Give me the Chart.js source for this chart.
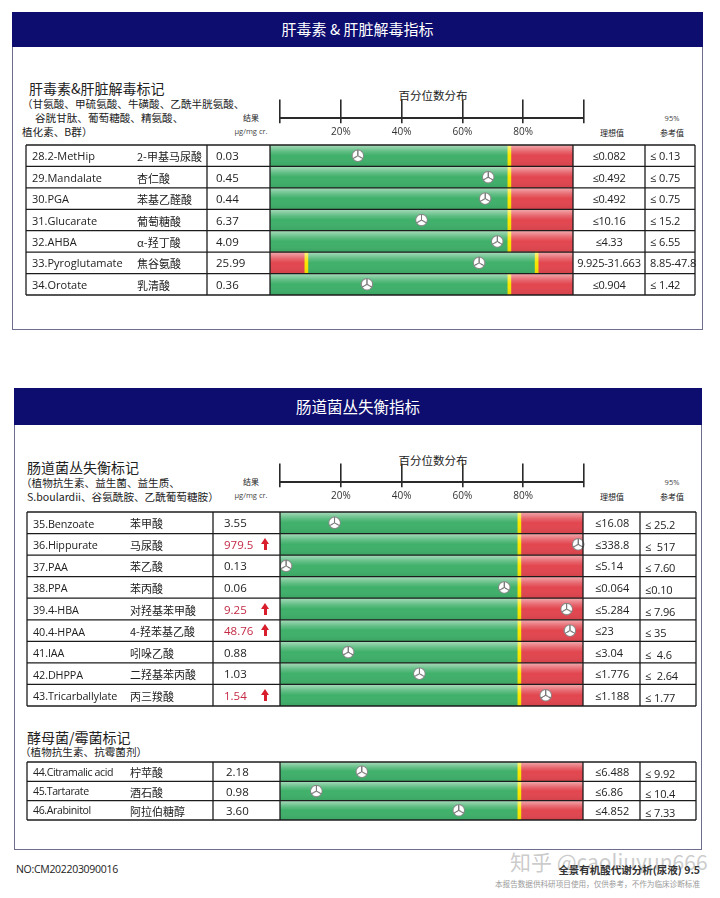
<!DOCTYPE html>
<html>
<head>
<meta charset="utf-8">
<script src="https://cdn.jsdelivr.net/npm/chart.js@4.4.0/dist/chart.umd.min.js"></script>
<style>
  body { margin: 0; background: #fff; width: 720px; height: 898px; position: relative; overflow: hidden;
         font-family: "Open Sans", "Noto Sans CJK SC", sans-serif; color: #222; }
  .abs { position: absolute; white-space: pre; }
  .cn { font-family: "Noto Sans CJK SC", "Open Sans", sans-serif; }
  .box { position: absolute; border: 1.5px solid #6d6d90; box-sizing: border-box; }
  .hdr { position: absolute; left: -1px; right: -1px; top: -1px; background: #0d0c6f; color: #fff;
         text-align: center; font-family: "Noto Sans CJK SC", sans-serif; }
  .up { position: absolute; width: 8px; height: 12px; }
  .up:before { content: ""; position: absolute; left: 0; top: 0; border-left: 4.5px solid transparent;
               border-right: 4.5px solid transparent; border-bottom: 6px solid #d81e2c; }
  .up:after { content: ""; position: absolute; left: 3px; top: 5px; width: 3px; height: 7px; background: #d81e2c; }
  canvas { position: absolute; }
</style>
</head>
<body>
<div class="box" style="left:12px;top:12px;width:691px;height:318px">
  <div class="hdr" style="height:35px;line-height:34px;font-size:15px">肝毒素 &amp; 肝脏解毒指标</div>
</div>
<div class="box" style="left:14px;top:388px;width:688px;height:462px">
  <div class="hdr" style="height:37px;line-height:36px;font-size:15.5px">肠道菌丛失衡指标</div>
</div>
<script>
// 肝毒素 & 肝脏解毒
const t1Names = ["28.2-MetHip", "29.Mandalate", "30.PGA", "31.Glucarate", "32.AHBA", "33.Pyroglutamate", "34.Orotate"];
const t1Cn = ["2-甲基马尿酸", "杏仁酸", "苯基乙醛酸", "葡萄糖酸", "α-羟丁酸", "焦谷氨酸", "乳清酸"];
const t1Result = ["0.03", "0.45", "0.44", "6.37", "4.09", "25.99", "0.36"];
const t1Flag = [0, 0, 0, 0, 0, 0, 0];
const t1Pct = [29, 72, 71, 50, 75, 69, 32];
const t1Low = [null, null, null, null, null, 12, null];
const t1High = [79, 79, 79, 79, 79, 88, 79];
const t1Ideal = ["≤0.082", "≤0.492", "≤0.492", "≤10.16", "≤4.33", "9.925-31.663", "≤0.904"];
const t1Ref = ["≤ 0.13", "≤ 0.75", "≤ 0.75", "≤ 15.2", "≤ 6.55", "8.85-47.8", "≤ 1.42"];

// 肠道菌丛失衡
const t2Names = ["35.Benzoate", "36.Hippurate", "37.PAA", "38.PPA", "39.4-HBA", "40.4-HPAA", "41.IAA", "42.DHPPA", "43.Tricarballylate"];
const t2Cn = ["苯甲酸", "马尿酸", "苯乙酸", "苯丙酸", "对羟基苯甲酸", "4-羟苯基乙酸", "吲哚乙酸", "二羟基苯丙酸", "丙三羧酸"];
const t2Result = ["3.55", "979.5", "0.13", "0.06", "9.25", "48.76", "0.88", "1.03", "1.54"];
const t2Flag = [0, 1, 0, 0, 1, 1, 0, 0, 1];
const t2Pct = [18, 98.4, 2, 74, 94.6, 95.7, 22.5, 46, 87.7];
const t2Low = [null, null, null, null, null, null, null, null, null];
const t2High = [79, 79, 79, 79, 79, 79, 79, 79, 79];
const t2Ideal = ["≤16.08", "≤338.8", "≤5.14", "≤0.064", "≤5.284", "≤23", "≤3.04", "≤1.776", "≤1.188"];
const t2Ref = ["≤ 25.2", "≤  517", "≤ 7.60", "≤0.10", "≤ 7.96", "≤ 35", "≤  4.6", "≤  2.64", "≤ 1.77"];

// 酵母菌/霉菌
const t3Names = ["44.Citramalic acid", "45.Tartarate", "46.Arabinitol"];
const t3Cn = ["柠苹酸", "酒石酸", "阿拉伯糖醇"];
const t3Result = ["2.18", "0.98", "3.60"];
const t3Flag = [0, 0, 0];
const t3Pct = [27, 12, 59];
const t3Low = [null, null, null];
const t3High = [79, 79, 79];
const t3Ideal = ["≤6.488", "≤6.86", "≤4.852"];
const t3Ref = ["≤ 9.92", "≤ 10.4", "≤ 7.33"];

// percentile axis
const axisTicks = [0, 20, 40, 60, 80, 100];

const GREEN = "#3fb06a", RED = "#e2464f", YELLOW = "#f7e600";

function put(x, y, s, o = {}) {
  const d = document.createElement("div");
  d.className = "abs" + (o.cn ? " cn" : "");
  const fs = o.size || 11;
  const h = Math.round(fs * 1.6);
  d.style.fontSize = fs + "px";
  d.style.lineHeight = h + "px";
  d.style.top = (y - h / 2) + "px";
  if (o.align === "center") {
    d.style.left = (x - 150) + "px"; d.style.width = "300px"; d.style.textAlign = "center";
  } else if (o.align === "right") {
    d.style.right = (720 - x) + "px";
  } else {
    d.style.left = x + "px";
  }
  if (o.color) d.style.color = o.color;
  if (o.bold) d.style.fontWeight = "bold";
  if (o.ls) d.style.letterSpacing = o.ls + "px";
  d.textContent = s;
  document.body.appendChild(d);
  return d;
}

// section labels
put(29, 88, "肝毒素&肝脏解毒标记", { cn: 1, size: 14 });
put(22, 103, "（甘氨酸、甲硫氨酸、牛磺酸、乙酰半胱氨酸、", { cn: 1, size: 10.6 });
put(35, 117, "谷胱甘肽、葡萄糖酸、精氨酸、", { cn: 1, size: 10.6 });
put(22, 131, "植化素、B群）", { cn: 1, size: 10.6 });

put(27, 467, "肠道菌丛失衡标记", { cn: 1, size: 14 });
put(21, 482, "（植物抗生素、益生菌、益生质、", { cn: 1, size: 10.6 });
put(27, 496, "S.boulardii、谷氨酰胺、乙酰葡萄糖胺）", { cn: 1, size: 10.6 });

put(27, 737, "酵母菌/霉菌标记", { cn: 1, size: 14 });
put(20, 751, "（植物抗生素、抗霉菌剂）", { cn: 1, size: 10.6 });

function headerLabels(axisY, titleY) {
  put(433, titleY, "百分位数分布", { cn: 1, size: 11.5, align: "center" });
  put(251, axisY - 1, "结果", { cn: 1, size: 8, align: "center" });
  put(251, axisY + 13, "μg/mg cr.", { size: 7.5, align: "center", color: "#444" });
  put(612, axisY + 14, "理想值", { cn: 1, size: 8, align: "center" });
  put(672, axisY, "95%", { size: 7.5, align: "center", color: "#444" });
  put(672, axisY + 14, "参考值", { cn: 1, size: 8, align: "center" });
}
headerLabels(118, 95);
headerLabels(482, 460);

// footer
put(510, 861, "知乎 @caoliuyun666", { cn: 1, size: 21, color: "rgba(160,160,160,0.55)" });
put(16, 869, "NO:CM202203090016", { size: 10.5, ls: -0.3 });
put(700, 869, "全景有机酸代谢分析(尿液) 9.5", { cn: 1, size: 10.5, bold: 1, align: "right", color: "#333" });
put(700, 884, "本报告数据供科研项目使用，仅供参考，不作为临床诊断标准", { cn: 1, size: 7.6, align: "right", color: "#9a9a9a" });

function buildAxis(axisY) {
  const cv = document.createElement("canvas");
  const cl = 250, cw = 360, chH = 50;
  cv.width = cw; cv.height = chH;
  cv.style.left = cl + "px"; cv.style.top = "0px";
  document.body.appendChild(cv);
  const chart = new Chart(cv, {
    type: "scatter",
    data: { datasets: [{ data: [] }] },
    options: {
      responsive: false, animation: false, events: [],
      layout: { padding: { left: 280 - cl, right: cl + cw - 584, top: 3, bottom: 2 } },
      plugins: { legend: { display: false }, tooltip: { enabled: false } },
      scales: {
        x: {
          type: "linear", min: 0, max: 100,
          afterBuildTicks: s => { s.ticks = axisTicks.map(v => ({ value: v })); },
          ticks: {
            padding: 3, color: "#333", font: { size: 10, family: "Open Sans" },
            callback: v => (v === 0 || v === 100) ? "" : v + "%"
          },
          grid: { color: "#2a2a2a", lineWidth: 1.6, drawOnChartArea: true, drawTicks: true, tickLength: 5 },
          border: { display: true, color: "#2a2a2a", width: 2 }
        },
        y: { display: false, min: 0, max: 1 }
      }
    }
  });
  // keep 15px of tick above the axis line, then line it up with the layout
  const top = chart.chartArea.top, bottom = chart.chartArea.bottom;
  chart.options.layout.padding.top = 3 + (bottom - top) - 15;
  chart.update();
  cv.style.top = (axisY - chart.chartArea.bottom) + "px";
}

function makeMarker() {
  const S = 39, c = document.createElement("canvas");
  c.width = S; c.height = S;
  const g = c.getContext("2d");
  const r = S / 2 - 2.5, cx = S / 2, cy = S / 2;
  g.fillStyle = "#fff"; g.strokeStyle = "#8a8a8a"; g.lineWidth = 3;
  g.beginPath(); g.arc(cx, cy, r, 0, Math.PI * 2); g.fill(); g.stroke();
  g.lineWidth = 3.5; g.strokeStyle = "#7a7a7a";
  [-90, 30, 150].forEach(a => {
    const t = a * Math.PI / 180;
    g.beginPath(); g.moveTo(cx, cy); g.lineTo(cx + Math.cos(t) * r, cy + Math.sin(t) * r); g.stroke();
  });
  const img = new Image(13, 13);
  img.src = c.toDataURL();
  return img;
}

function buildTable(t, marker) {
  const n = t.names.length, cols = t.cols;
  const cl = cols[0] - 2, cw = cols[5] - cols[0] + 4, ct = t.top - 2, chH = t.bottom - t.top + 4;
  const cv = document.createElement("canvas");
  cv.width = cw; cv.height = chH;
  cv.style.left = cl + "px"; cv.style.top = ct + "px";
  document.body.appendChild(cv);

  const bar = (data, color, order) => ({
    data, backgroundColor: color, grouped: false, barPercentage: 1, categoryPercentage: 1,
    borderWidth: 0, borderSkipped: false, order
  });
  const lowRed = t.low.map(c => c == null ? null : [0, c]);
  const lowYel = t.low.map(c => c == null ? null : [c - 0.5, c + 0.5]);
  const green = t.low.map((c, i) => [c == null ? 0 : c, t.high[i]]);
  const highYel = t.high.map(c => [c - 0.5, c + 0.5]);
  const highRed = t.high.map(c => [c, 100]);

  const shine = {
    id: "shine",
    beforeDatasetDraw(chart, args) {
      if (chart.data.datasets[args.index].type !== "scatter") return;
      const ctx = chart.ctx, a = chart.chartArea, ys = chart.scales.y;
      const rh = (a.bottom - a.top) / n;
      for (let i = 0; i < n; i++) {
        const y0 = ys.getPixelForValue(i) - rh / 2;
        const gr = ctx.createLinearGradient(0, y0, 0, y0 + rh);
        gr.addColorStop(0, "rgba(255,255,255,0.55)");
        gr.addColorStop(0.3, "rgba(255,255,255,0.18)");
        gr.addColorStop(0.5, "rgba(255,255,255,0)");
        gr.addColorStop(1, "rgba(0,0,0,0.07)");
        ctx.fillStyle = gr;
        ctx.fillRect(a.left, y0, a.right - a.left, rh);
      }
    }
  };
  const grid = {
    id: "grid",
    afterDraw(chart) {
      const ctx = chart.ctx, a = chart.chartArea, ys = chart.scales.y;
      const rh = (a.bottom - a.top) / n;
      ctx.save();
      ctx.strokeStyle = "#1c1c1c"; ctx.lineWidth = 1.3;
      const xl = cols[0] - cl, xr = cols[5] - cl;
      for (let i = 0; i <= n; i++) {
        const y = i < n ? ys.getPixelForValue(i) - rh / 2 : ys.getPixelForValue(n - 1) + rh / 2;
        ctx.beginPath(); ctx.moveTo(xl, y); ctx.lineTo(xr, y); ctx.stroke();
      }
      cols.forEach(x => {
        ctx.beginPath(); ctx.moveTo(x - cl, a.top); ctx.lineTo(x - cl, a.bottom); ctx.stroke();
      });
      ctx.restore();
    }
  };

  const chart = new Chart(cv, {
    type: "bar",
    data: {
      labels: t.names,
      datasets: [
        bar(lowRed, RED, 2), bar(green, GREEN, 2), bar(highRed, RED, 2),
        bar(lowYel, YELLOW, 1), bar(highYel, YELLOW, 1),
        {
          type: "scatter", data: t.pct.map((p, i) => ({ x: p, y: i })), order: 0, clip: false,
          pointStyle: marker, pointRadius: 6, pointHoverRadius: 6
        }
      ]
    },
    options: {
      responsive: false, animation: false, events: [], indexAxis: "y",
      layout: { padding: { left: cols[2] - cl, right: cl + cw - cols[3], top: 2, bottom: 2 } },
      plugins: { legend: { display: false }, tooltip: { enabled: false } },
      scales: {
        x: { type: "linear", min: 0, max: 100, display: false },
        y: { type: "category", display: false }
      }
    },
    plugins: [shine, grid]
  });

  // row text, placed on the rows of the chart's y scale
  const ys = chart.scales.y;
  for (let i = 0; i < n; i++) {
    const y = ct + ys.getPixelForValue(i) + 0.5;
    put(cols[0] + 6, y, t.names[i], { size: t.nameSize, ls: t.nameLs });
    put(t.cnX, y, t.cn[i], { cn: 1, size: 11 });
    const hi = t.flag[i];
    put(t.valX, y, t.result[i], { size: 11.5, color: hi ? "#c42a44" : "#222" });
    if (hi) {
      const a = document.createElement("div");
      a.className = "up";
      a.style.left = "261px"; a.style.top = (y - 7) + "px";
      document.body.appendChild(a);
    }
    if (t.idealCenter) put((cols[3] + cols[4]) / 2, y, t.ideal[i], { size: 11, align: "center", ls: -0.2 });
    else put(cols[3] + 12, y, t.ideal[i], { size: 11 });
    put(cols[4] + 5, y + t.refDy, t.ref[i], { size: 11, ls: -0.1 });
  }
}

const marker = makeMarker();
marker.onload = () => {
  buildAxis(118);
  buildAxis(482);
  buildTable({
    names: t1Names, cn: t1Cn, result: t1Result, flag: t1Flag, pct: t1Pct, low: t1Low, high: t1High,
    ideal: t1Ideal, ref: t1Ref, top: 140, bottom: 300, cols: [26, 207, 270, 573, 645, 695],
    cnX: 137, valX: 216, idealCenter: true, nameSize: 11, nameLs: 0, refDy: 0
  }, marker);
  buildTable({
    names: t2Names, cn: t2Cn, result: t2Result, flag: t2Flag, pct: t2Pct, low: t2Low, high: t2High,
    ideal: t2Ideal, ref: t2Ref, top: 507, bottom: 711, cols: [27, 213, 280, 583, 640, 696],
    cnX: 130, valX: 224, idealCenter: false, nameSize: 10.8, nameLs: -0.1, refDy: 2
  }, marker);
  buildTable({
    names: t3Names, cn: t3Cn, result: t3Result, flag: t3Flag, pct: t3Pct, low: t3Low, high: t3High,
    ideal: t3Ideal, ref: t3Ref, top: 757, bottom: 825, cols: [27, 213, 280, 583, 640, 696],
    cnX: 130, valX: 226, idealCenter: false, nameSize: 10.6, nameLs: -0.4, refDy: 2
  }, marker);
};
</script>
</body>
</html>
